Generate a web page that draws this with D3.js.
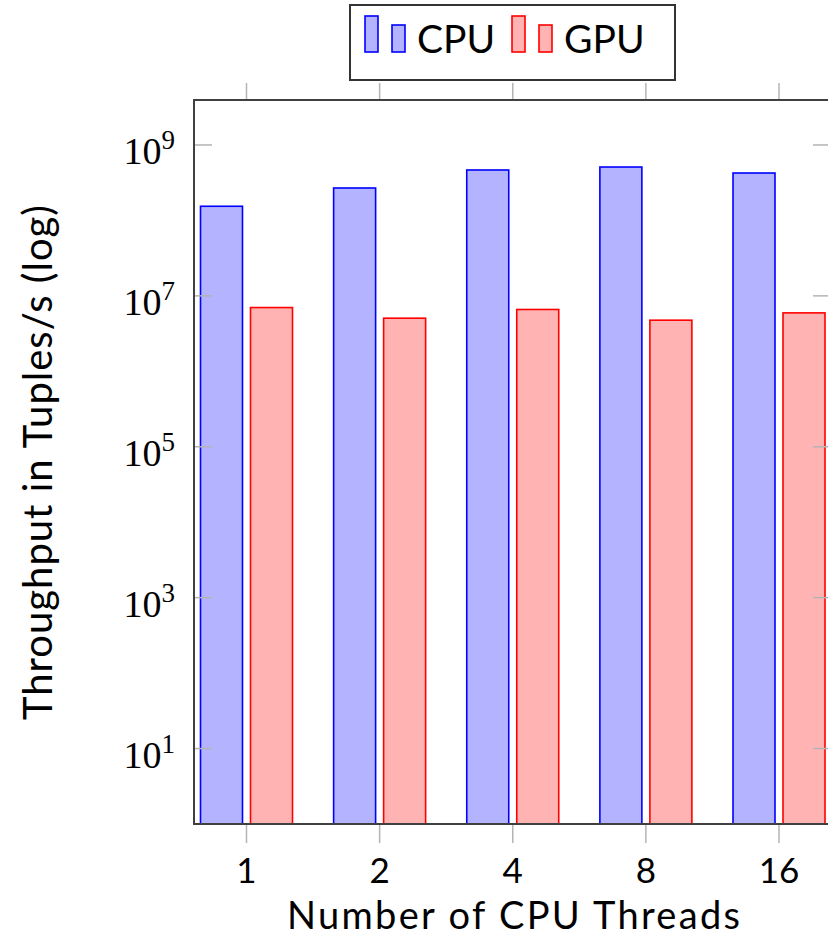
<!DOCTYPE html>
<html>
<head>
<meta charset="utf-8">
<script src="https://cdn.jsdelivr.net/npm/d3@7"></script>
<style>
  html, body { margin: 0; padding: 0; background: #fff; }
  svg { display: block; }
</style>
</head>
<body>
<svg id="chart" width="828" height="945"></svg>
<script>
// ---- data ----
const threads = ["1", "2", "4", "8", "16"];
const cpuThroughput = [1.54e8, 2.69e8, 4.66e8, 5.1e8, 4.25e8];
const gpuThroughput = [7.0e6, 5.06e6, 6.6e6, 4.76e6, 5.95e6];
const seriesNames = ["CPU", "GPU"];
const yTickExponents = [1, 3, 5, 7, 9];
const xTitle = "Number of CPU Threads";
const yTitle = "Throughput in Tuples/s (log)";

// ---- layout ----
const W = 828, H = 945;
const plot = { left: 194, right: 831, top: 100, bottom: 824 };
const sans = "Lato, 'Open Sans', sans-serif";
const serif = "'Liberation Serif', 'DejaVu Serif', serif";
const colors = {
  CPU: { fill: "#b3b3ff", stroke: "#0000ff" },
  GPU: { fill: "#ffb3b3", stroke: "#ff0000" }
};
const axisColor = "#404040";
const tickColor = "#b4b4b4";

const svg = d3.select("#chart");

const x = d3.scalePoint()
  .domain(threads)
  .range([plot.left + 52.5, plot.right - 52]);

const y = d3.scaleLog()
  .domain([1, Math.pow(10, 9.596)])
  .range([plot.bottom, plot.top]);

const barW = 42, barShift = 25;

// clip plot area
svg.append("defs").append("clipPath").attr("id", "clip")
  .append("rect")
  .attr("x", plot.left).attr("y", plot.top)
  .attr("width", plot.right - plot.left).attr("height", plot.bottom - plot.top);

// bars
const series = [
  { name: "CPU", values: cpuThroughput, shift: -barShift },
  { name: "GPU", values: gpuThroughput, shift: barShift }
];
const gBars = svg.append("g").attr("clip-path", "url(#clip)");
series.forEach(s => {
  gBars.selectAll(null)
    .data(threads.map((t, i) => ({ t, v: s.values[i] })))
    .enter().append("rect")
    .attr("x", d => x(d.t) + s.shift - barW / 2)
    .attr("y", d => y(d.v))
    .attr("width", barW)
    .attr("height", d => plot.bottom - y(d.v))
    .attr("fill", colors[s.name].fill)
    .attr("stroke", colors[s.name].stroke)
    .attr("stroke-width", 1.6);
});

// y ticks (inward, left and right)
const yTicks = yTickExponents.map(e => Math.pow(10, e));
const gy = svg.append("g");
gy.selectAll(null).data(yTicks).enter().append("line")
  .attr("x1", plot.left).attr("x2", plot.left + 18)
  .attr("y1", d => y(d)).attr("y2", d => y(d))
  .attr("stroke", tickColor).attr("stroke-width", 1.5);
gy.selectAll(null).data(yTicks).enter().append("line")
  .attr("x1", plot.right - 18).attr("x2", plot.right)
  .attr("y1", d => y(d)).attr("y2", d => y(d))
  .attr("stroke", tickColor).attr("stroke-width", 1.5);

// y tick labels 10^n
const yl = gy.selectAll(null).data(yTickExponents).enter().append("text")
  .attr("x", plot.left - 19)
  .attr("y", e => y(Math.pow(10, e)) + 19)
  .attr("text-anchor", "end")
  .attr("font-family", serif)
  .attr("font-size", 38)
  .attr("fill", "#000");
yl.append("tspan").text("10");
yl.append("tspan").attr("dy", -15).attr("font-size", 27).text(e => e);

// x ticks (outward, top and bottom)
const gx = svg.append("g");
gx.selectAll(null).data(threads).enter().append("line")
  .attr("x1", d => x(d)).attr("x2", d => x(d))
  .attr("y1", plot.bottom).attr("y2", plot.bottom + 19)
  .attr("stroke", tickColor).attr("stroke-width", 1.5);
gx.selectAll(null).data(threads).enter().append("line")
  .attr("x1", d => x(d)).attr("x2", d => x(d))
  .attr("y1", plot.top - 17).attr("y2", plot.top)
  .attr("stroke", tickColor).attr("stroke-width", 1.5);
gx.selectAll(null).data(threads).enter().append("text")
  .attr("x", d => x(d))
  .attr("y", 883)
  .attr("text-anchor", "middle")
  .attr("font-family", sans)
  .attr("font-size", 35)
  .attr("fill", "#000")
  .text(d => d);

// axis frame
svg.append("rect")
  .attr("x", plot.left).attr("y", plot.top)
  .attr("width", plot.right - plot.left).attr("height", plot.bottom - plot.top)
  .attr("fill", "none").attr("stroke", axisColor).attr("stroke-width", 2);

// x title
svg.append("text")
  .attr("x", 287).attr("y", 929)
  .attr("font-family", sans).attr("font-size", 38)
  .attr("textLength", 453).attr("lengthAdjust", "spacing")
  .attr("fill", "#000").text(xTitle);

// y title
svg.append("text")
  .attr("transform", `translate(52, 720) rotate(-90)`)
  .attr("font-family", sans).attr("font-size", 40)
  .attr("textLength", 515).attr("lengthAdjust", "spacing")
  .attr("fill", "#000").text(yTitle);

// legend
const lg = svg.append("g");
lg.append("rect")
  .attr("x", 350).attr("y", 5).attr("width", 325).attr("height", 75)
  .attr("fill", "#fff").attr("stroke", "#333").attr("stroke-width", 2);
const legendItems = [
  { name: seriesNames[0], x0: 365 },
  { name: seriesNames[1], x0: 512 }
];
legendItems.forEach(it => {
  const c = colors[it.name];
  lg.append("rect").attr("x", it.x0).attr("y", 16).attr("width", 13).attr("height", 36)
    .attr("fill", c.fill).attr("stroke", c.stroke).attr("stroke-width", 1.6);
  lg.append("rect").attr("x", it.x0 + 27).attr("y", 25).attr("width", 13).attr("height", 27)
    .attr("fill", c.fill).attr("stroke", c.stroke).attr("stroke-width", 1.6);
  lg.append("text")
    .attr("x", it.x0 + 52).attr("y", 53)
    .attr("font-family", sans).attr("font-size", 39)
    .attr("fill", "#000").text(it.name);
});
</script>
</body>
</html>
